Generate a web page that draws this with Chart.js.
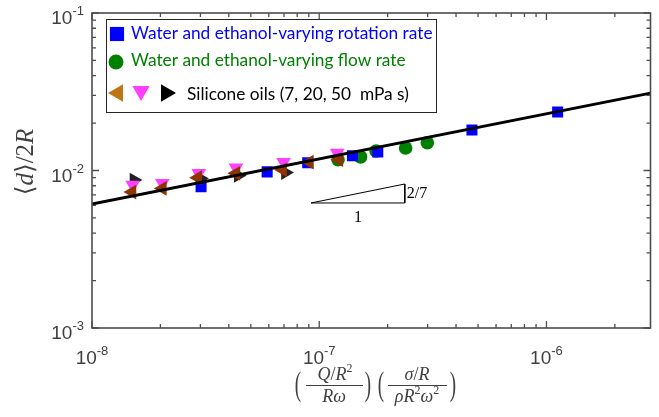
<!DOCTYPE html>
<html>
<head>
<meta charset="utf-8">
<script src="https://cdn.jsdelivr.net/npm/chart.js@4.4.1/dist/chart.umd.min.js"></script>
<style>
  html, body { margin: 0; padding: 0; background: #fff; }
  #wrap { width: 659px; height: 417px; }
</style>
</head>
<body>
<div id="wrap"><canvas id="mycanvas" width="659" height="417"></canvas></div>
<script>
// water + ethanol, rotation rate varied
var rotX = [3.02e-8, 5.9e-8, 8.9e-8, 1.4e-7, 1.81e-7, 4.7e-7, 1.12e-6];
var rotY = [0.0079, 0.0098, 0.0112, 0.0124, 0.0131, 0.0181, 0.0235];
// water + ethanol, flow rate varied
var flowX = [1.21e-7, 1.52e-7, 1.78e-7, 2.4e-7, 2.99e-7];
var flowY = [0.0117, 0.0122, 0.0133, 0.0139, 0.0150];
// silicone oils 7 / 20 / 50 mPa s
var oil7X = [1.5e-8, 2.04e-8, 2.92e-8, 4.3e-8, 6.9e-8, 9.05e-8, 1.22e-7];
var oil7Y = [0.0073, 0.0077, 0.0090, 0.0096, 0.0101, 0.0113, 0.0117];
var oil20X = [1.51e-8, 2.04e-8, 2.95e-8, 4.3e-8, 6.97e-8, 1.2e-7];
var oil20Y = [0.0081, 0.0083, 0.0096, 0.0104, 0.0113, 0.0129];
var oil50X = [1.53e-8, 3.0e-8, 4.4e-8, 7.1e-8];
var oil50Y = [0.0087, 0.0089, 0.0093, 0.0097];
// 2/7 power law
var fitX = [1e-8, 2.87e-6];
var fitY = [0.00612, 0.031];
// slope triangle
var slopeX = [9.2e-8, 2.38e-7, 2.38e-7, 9.2e-8];
var slopeY = [0.00622, 0.00821, 0.00622, 0.00622];

var xTicks = [1e-8, 1e-7, 1e-6];
var xTickExp = ['-8', '-7', '-6'];
var yTicks = [1e-3, 1e-2, 1e-1];
var yTickExp = ['-3', '-2', '-1'];
var legendLabels = ['Water and ethanol-varying rotation rate',
                    'Water and ethanol-varying flow rate',
                    'Silicone oils (7, 20, 50  mPa s)'];

var BLUE = '#0000ff', GREEN = '#008000', PINK = '#ff40ff', BROWN = '#8f3300', AXIS = '#404040';

function pts(xs, ys) {
  return xs.map(function (x, i) { return { x: x, y: ys[i] }; });
}

function marker(ctx, style, r, rot, color, x, y) {
  ctx.fillStyle = color;
  Chart.helpers.drawPoint(ctx, { pointStyle: style, radius: r, rotation: rot, borderWidth: 0 }, x, y);
}

var SERIF = '"Liberation Serif", "DejaVu Serif", serif';
function mathFont(p, size) {
  return (p.it ? 'italic ' : '') + (p.sup ? Math.round(size * 0.68) : size) + 'px ' + SERIF;
}
function drawMath(ctx, parts, cx, base, size) {
  var w = 0;
  parts.forEach(function (p) { ctx.font = mathFont(p, size); p.w = ctx.measureText(p.t).width; w += p.w; });
  var x = cx - w / 2;
  ctx.textAlign = 'left';
  ctx.textBaseline = 'alphabetic';
  parts.forEach(function (p) {
    ctx.font = mathFont(p, size);
    ctx.fillText(p.t, x, p.sup ? base - size * 0.42 : base);
    x += p.w;
  });
  return w;
}
function bigParen(ctx, ch, x, cy) {
  ctx.save();
  ctx.translate(x, cy);
  ctx.scale(1, 1.75);
  ctx.font = '19px ' + SERIF;
  ctx.textAlign = 'center';
  ctx.textBaseline = 'middle';
  ctx.fillText(ch, 0, 0);
  ctx.restore();
}

// "10" with a raised exponent
function powLabel(ctx, exp, x, y, align) {
  ctx.font = '19px "Liberation Sans", Arial, sans-serif';
  var w1 = ctx.measureText('10').width;
  ctx.font = '13px "Liberation Sans", Arial, sans-serif';
  var w2 = ctx.measureText(exp).width;
  var x0 = align === 'right' ? x - w1 - w2 : x - (w1 + w2) / 2;
  ctx.textAlign = 'left';
  ctx.textBaseline = 'alphabetic';
  ctx.font = '19px "Liberation Sans", Arial, sans-serif';
  ctx.fillText('10', x0, y);
  ctx.font = '13px "Liberation Sans", Arial, sans-serif';
  ctx.fillText(exp, x0 + w1, y - 9);
}

var axesPlugin = {
  id: 'matAxes',
  afterDraw: function (chart) {
    var ctx = chart.ctx, a = chart.chartArea;
    var xs = chart.scales.x, ys = chart.scales.y;
    ctx.save();
    ctx.strokeStyle = '#4d4d4d';
    ctx.lineWidth = 1.3;
    ctx.beginPath();
    var d, m, v, p, len;
    for (d = -8; d <= -6; d++) {
      for (m = 1; m <= 9; m++) {
        v = m * Math.pow(10, d);
        if (v > xs.max * 1.0001) continue;
        p = xs.getPixelForValue(v);
        len = m === 1 ? 7 : 4;
        ctx.moveTo(p, a.bottom); ctx.lineTo(p, a.bottom - len);
        ctx.moveTo(p, a.top); ctx.lineTo(p, a.top + len);
      }
    }
    for (d = -3; d <= -1; d++) {
      for (m = 1; m <= 9; m++) {
        v = m * Math.pow(10, d);
        if (v > ys.max * 1.0001) continue;
        p = ys.getPixelForValue(v);
        len = m === 1 ? 7 : 4;
        ctx.moveTo(a.left, p); ctx.lineTo(a.left + len, p);
        ctx.moveTo(a.right, p); ctx.lineTo(a.right - len, p);
      }
    }
    ctx.stroke();
    ctx.lineWidth = 1.6;
    ctx.strokeRect(a.left, a.top, a.right - a.left, a.bottom - a.top);

    // tick labels
    ctx.fillStyle = AXIS;
    xTicks.forEach(function (t, i) {
      powLabel(ctx, xTickExp[i], xs.getPixelForValue(t), a.bottom + 36, 'center');
    });
    yTicks.forEach(function (t, i) {
      powLabel(ctx, yTickExp[i], a.left - 8, ys.getPixelForValue(t) + 11, 'right');
    });

    // x title: (Q/R^2 / R w)(sigma/R / rho R^2 w^2)
    var bar = 385;
    ctx.fillStyle = AXIS;
    ctx.strokeStyle = AXIS;
    ctx.lineWidth = 1;
    bigParen(ctx, '(', 298, bar + 1);
    drawMath(ctx, [{ t: 'Q', it: 1 }, { t: '/' }, { t: 'R', it: 1 }, { t: '2', sup: 1 }], 335, bar - 5, 18);
    drawMath(ctx, [{ t: 'R', it: 1 }, { t: 'ω', it: 1 }], 334, bar + 17, 18);
    ctx.beginPath(); ctx.moveTo(306, bar + 0.5); ctx.lineTo(363, bar + 0.5); ctx.stroke();
    bigParen(ctx, ')', 368, bar + 1);
    bigParen(ctx, '(', 381, bar + 1);
    drawMath(ctx, [{ t: 'σ', it: 1 }, { t: '/' }, { t: 'R', it: 1 }], 417, bar - 5, 18);
    drawMath(ctx, [{ t: 'ρ', it: 1 }, { t: 'R', it: 1 }, { t: '2', sup: 1 }, { t: 'ω', it: 1 }, { t: '2', sup: 1 }], 417, bar + 17, 18);
    ctx.beginPath(); ctx.moveTo(388, bar + 0.5); ctx.lineTo(447, bar + 0.5); ctx.stroke();
    bigParen(ctx, ')', 453, bar + 1);

    // y title
    ctx.save();
    ctx.translate(25, 162);
    ctx.rotate(-Math.PI / 2);
    drawMath(ctx, [{ t: '⟨' }, { t: 'd', it: 1 }, { t: '⟩' }, { t: '/' }, { t: '2' }, { t: 'R', it: 1 }], 0, 8, 25);
    ctx.restore();

    // slope labels
    var sx0 = xs.getPixelForValue(slopeX[0]), sx1 = xs.getPixelForValue(slopeX[1]);
    var sy0 = ys.getPixelForValue(slopeY[0]), sy1 = ys.getPixelForValue(slopeY[1]);
    ctx.fillStyle = '#000';
    drawMath(ctx, [{ t: '1' }], (sx0 + sx1) / 2, sy0 + 19, 16);
    ctx.font = '16px ' + SERIF;
    ctx.textAlign = 'left';
    ctx.fillText('2/7', sx1 + 2, (sy0 + sy1) / 2 + 5);

    // legend box
    var lx = 106, ly = 19, lw = 330, lh = 93;
    ctx.fillStyle = '#fff';
    ctx.fillRect(lx, ly, lw, lh);
    ctx.strokeStyle = '#262626';
    ctx.lineWidth = 1;
    ctx.strokeRect(lx + 0.5, ly + 0.5, lw, lh);
    marker(ctx, 'rect', 10, 0, BLUE, 117, 34);
    marker(ctx, 'circle', 7.5, 0, GREEN, 116, 62);
    marker(ctx, 'triangle', 10, -90, '#c07414', 118, 93);
    marker(ctx, 'triangle', 10, 180, PINK, 141, 91);
    marker(ctx, 'triangle', 10, 90, '#000', 166, 93);
    ctx.textAlign = 'left';
    ctx.textBaseline = 'middle';
    ctx.font = '17.3px Lato, "Open Sans", sans-serif';
    ctx.fillStyle = BLUE;
    ctx.fillText(legendLabels[0], 131, 33);
    ctx.fillStyle = GREEN;
    ctx.fillText(legendLabels[1], 131, 60);
    ctx.fillStyle = '#000';
    ctx.fillText(legendLabels[2], 187, 94);
    ctx.restore();
  }
};

var ctx = document.getElementById('mycanvas');
var chart = new Chart(ctx, {
  type: 'scatter',
  data: {
    datasets: [
      { label: 'fit', data: pts(fitX, fitY), showLine: true, borderColor: '#000', borderWidth: 3,
        pointRadius: 0, order: 0 },
      { label: 'slope', data: pts(slopeX, slopeY), showLine: true, borderColor: '#000', borderWidth: 1,
        pointRadius: 0, order: 1 },
      { label: '7 mPa s', data: pts(oil7X, oil7Y), pointStyle: 'triangle', rotation: -90, pointRadius: 8.5,
        backgroundColor: BROWN, pointBorderWidth: 0, order: 2 },
      { label: '20 mPa s', data: pts(oil20X, oil20Y), pointStyle: 'triangle', rotation: 180, pointRadius: 8.5,
        backgroundColor: PINK, pointBorderWidth: 0, order: 3 },
      { label: legendLabels[0], data: pts(rotX, rotY), pointStyle: 'rect', pointRadius: 7.8,
        backgroundColor: BLUE, pointBorderWidth: 0, order: 4 },
      { label: legendLabels[1], data: pts(flowX, flowY), pointStyle: 'circle', pointRadius: 6.8,
        backgroundColor: GREEN, pointBorderWidth: 0, order: 5 },
      { label: '50 mPa s', data: pts(oil50X, oil50Y), pointStyle: 'triangle', rotation: 90, pointRadius: 8.5,
        backgroundColor: '#222', pointBorderWidth: 0, order: 6 }
    ]
  },
  options: {
    responsive: false,
    animation: false,
    layout: { padding: { left: 92, top: 13, right: 1, bottom: 89 } },
    scales: {
      x: { type: 'logarithmic', min: 1e-8, max: 2.87e-6, display: false },
      y: { type: 'logarithmic', min: 1e-3, max: 1e-1, display: false }
    },
    plugins: { legend: { display: false }, tooltip: { enabled: false } }
  },
  plugins: [axesPlugin]
});
</script>
</body>
</html>
